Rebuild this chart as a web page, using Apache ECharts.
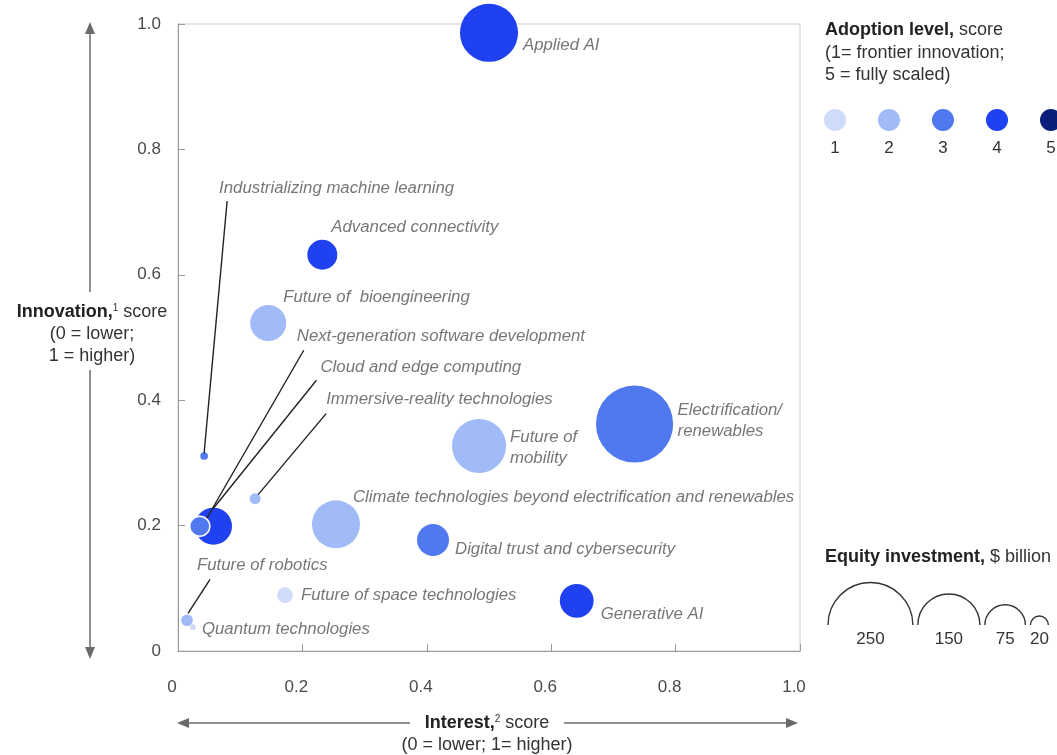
<!DOCTYPE html>
<html>
<head>
<meta charset="utf-8">
<script src="https://cdn.jsdelivr.net/npm/echarts@6/dist/echarts.min.js"></script>
<style>
  html, body { margin: 0; padding: 0; background: #fff; }
  #chart { width: 1057px; height: 755px; }
</style>
</head>
<body>
<div id="chart"></div>
<script>
// Technology trends: interest vs innovation, bubble size = equity investment
const categories = [
  'Applied AI', 'Advanced connectivity', 'Future of  bioengineering',
  'Industrializing machine learning', 'Cloud and edge computing',
  'Next-generation software development', 'Immersive-reality technologies',
  'Future of\nmobility', 'Electrification/\nrenewables',
  'Climate technologies beyond electrification and renewables',
  'Digital trust and cybersecurity', 'Future of robotics',
  'Future of space technologies', 'Quantum technologies', 'Generative AI'
];
const interestScores   = [0.500, 0.232, 0.145, 0.042, 0.057, 0.035, 0.124, 0.484, 0.734, 0.254, 0.410, 0.0145, 0.172, 0.024, 0.641];
const innovationScores = [0.986, 0.632, 0.523, 0.311, 0.199, 0.199, 0.243, 0.327, 0.362, 0.202, 0.177, 0.049, 0.089, 0.038, 0.080];
const adoptionLevels   = [4, 4, 2, 3, 4, 3, 2, 2, 3, 2, 3, 2, 1, 1, 4];
const equityInvestment = [135, 46, 62, 5, 65, 24, 9, 120, 214, 99, 51, 10, 16, 3, 56];

const axisTicks = [0, 0.2, 0.4, 0.6, 0.8, 1.0];
const adoptionScale = [1, 2, 3, 4, 5];
const adoptionPalette = ['#cfdbfb', '#a0bbf7', '#5079ef', '#2041ef', '#0b1f7a'];
const equityLegendValues = [250, 150, 75, 20];

// Label placement relative to each bubble centre (px): [dx, dy]
const labelOffsets = {
  'Applied AI': [34, 13],
  'Advanced connectivity': [9, -27],
  'Future of  bioengineering': [15, -26],
  'Industrializing machine learning': [15, -268],
  'Cloud and edge computing': [107, -159],
  'Next-generation software development': [97, -190],
  'Immersive-reality technologies': [71, -99],
  'Future of\nmobility': [31, 2],
  'Electrification/\nrenewables': [43, -3],
  'Climate technologies beyond electrification and renewables': [17, -27],
  'Digital trust and cybersecurity': [22, 9],
  'Future of robotics': [10, -55],
  'Future of space technologies': [16, 0],
  'Quantum technologies': [9, 2],
  'Generative AI': [24, 13]
};
// Leader lines relative to bubble centre: [near bubble, near label]
const leaderLines = {
  'Industrializing machine learning': [[0, -3], [23, -255]],
  'Next-generation software development': [[7, -8], [104, -176]],
  'Cloud and edge computing': [[0, -18], [103, -146]],
  'Immersive-reality technologies': [[3, -4], [71, -85]],
  'Future of robotics': [[1, -7], [23, -41]]
};

// Bubble radius from equity investment ($ billion)
function bubbleRadius(v) { return 1.43 * Math.pow(v, 0.614); }

const points = categories.map((name, i) => ({
  name: name,
  value: [interestScores[i], innovationScores[i], equityInvestment[i], adoptionLevels[i]],
  itemStyle: {
    color: adoptionPalette[adoptionLevels[i] - 1],
    opacity: 1,
    borderColor: name === 'Next-generation software development' ? '#ffffff' : 'transparent',
    borderWidth: name === 'Next-generation software development' ? 1.5 : 0
  }
}));

const FONT = '"Liberation Sans", Arial, Helvetica, sans-serif';

const chart = echarts.init(document.getElementById('chart'), null, { renderer: 'canvas' });

const axisCommon = {
  type: 'value', min: 0, max: 1, interval: 0.2,
  axisLine: { show: true, lineStyle: { color: '#9a9a9a', width: 1 } },
  axisTick: { show: true, inside: true, length: 7, lineStyle: { color: '#9a9a9a' } },
  splitLine: { show: false },
  axisLabel: {
    color: '#4a4a4a', fontSize: 17, fontFamily: FONT,
    formatter: v => {
      const t = axisTicks.find(a => Math.abs(a - v) < 1e-9);
      return t === 0 ? '0' : t.toFixed(1);
    }
  }
};

const option = {
  animation: false,
  backgroundColor: '#ffffff',
  grid: { left: 178, right: 257, top: 24, bottom: 104, show: true, borderColor: '#cccccc', borderWidth: 1, backgroundColor: 'transparent' },
  xAxis: Object.assign({}, axisCommon, {
    axisLabel: Object.assign({}, axisCommon.axisLabel, { margin: 28, padding: [0, 12, 0, 0] })
  }),
  yAxis: Object.assign({}, axisCommon, {
    axisLabel: Object.assign({}, axisCommon.axisLabel, { margin: 17 })
  }),
  series: [{
    type: 'scatter',
    data: points,
    symbolSize: val => 2 * bubbleRadius(val[2]),
    label: {
      show: true,
      formatter: p => p.name,
      color: '#777777',
      fontStyle: 'italic',
      fontSize: 16.8,
      lineHeight: 21,
      fontFamily: FONT
    },
    labelLayout: params => {
      const name = categories[params.dataIndex];
      const off = labelOffsets[name];
      const cx = params.rect.x + params.rect.width / 2;
      const cy = params.rect.y + params.rect.height / 2;
      return { x: cx + off[0], y: cy + off[1], align: 'left', verticalAlign: 'middle', hideOverlap: false };
    },
    emphasis: { disabled: true }
  }]
};

chart.setOption(option);

// Decorations: leader lines, axis titles with arrows, legends
const graphics = [];

Object.keys(leaderLines).forEach(name => {
  const i = categories.indexOf(name);
  const c = chart.convertToPixel({ gridIndex: 0 }, [interestScores[i], innovationScores[i]]);
  const seg = leaderLines[name];
  graphics.push({
    type: 'line', z: 10,
    shape: { x1: c[0] + seg[0][0], y1: c[1] + seg[0][1], x2: c[0] + seg[1][0], y2: c[1] + seg[1][1] },
    style: { stroke: '#222222', lineWidth: 1.4 }
  });
});

const ARROW = '#6a6a6a';
// vertical arrow (innovation)
graphics.push(
  { type: 'line', shape: { x1: 90, y1: 30, x2: 90, y2: 292 }, style: { stroke: ARROW, lineWidth: 1.5 } },
  { type: 'line', shape: { x1: 90, y1: 370, x2: 90, y2: 650 }, style: { stroke: ARROW, lineWidth: 1.5 } },
  { type: 'polygon', shape: { points: [[90, 22], [85, 34], [95, 34]] }, style: { fill: ARROW } },
  { type: 'polygon', shape: { points: [[90, 659], [85, 647], [95, 647]] }, style: { fill: ARROW } },
  // horizontal arrow (interest)
  { type: 'line', shape: { x1: 185, y1: 723, x2: 410, y2: 723 }, style: { stroke: ARROW, lineWidth: 1.5 } },
  { type: 'line', shape: { x1: 564, y1: 723, x2: 790, y2: 723 }, style: { stroke: ARROW, lineWidth: 1.5 } },
  { type: 'polygon', shape: { points: [[177, 723], [189, 718], [189, 728]] }, style: { fill: ARROW } },
  { type: 'polygon', shape: { points: [[798, 723], [786, 718], [786, 728]] }, style: { fill: ARROW } }
);

const titleRich = {
  b: { fontWeight: 'bold', fontSize: 18, fontFamily: FONT, fill: '#222222' },
  n: { fontSize: 18, fontFamily: FONT, fill: '#333333' },
  sup: { fontSize: 10, fontFamily: FONT, fill: '#333333', padding: [0, 0, 8, 0] }
};

graphics.push({
  type: 'text', x: 92, y: 334,
  style: {
    text: '{b|Innovation,}{sup|1}{n| score}\n{n|(0 = lower;}\n{n|1 = higher)}',
    rich: titleRich, align: 'center', verticalAlign: 'middle', lineHeight: 22
  }
});
graphics.push({
  type: 'text', x: 487, y: 734,
  style: {
    text: '{b|Interest,}{sup|2}{n| score}\n{n|(0 = lower; 1= higher)}',
    rich: titleRich, align: 'center', verticalAlign: 'middle', lineHeight: 22
  }
});

// adoption level legend
graphics.push({
  type: 'text', x: 825, y: 53,
  style: {
    text: '{b|Adoption level,}{n| score}\n{n|(1= frontier innovation;}\n{n|5 = fully scaled)}',
    rich: titleRich, align: 'left', verticalAlign: 'middle', lineHeight: 22.5
  }
});
adoptionScale.forEach((lvl, k) => {
  const cx = 835 + k * 54;
  graphics.push({ type: 'circle', shape: { cx: cx, cy: 120, r: 11 }, style: { fill: adoptionPalette[lvl - 1] } });
  graphics.push({
    type: 'text', x: cx, y: 148,
    style: { text: String(lvl), font: '17px ' + FONT, fill: '#333333', align: 'center', verticalAlign: 'middle' }
  });
});

// equity investment legend
graphics.push({
  type: 'text', x: 825, y: 557,
  style: { text: '{b|Equity investment,}{n| $ billion}', rich: titleRich, align: 'left', verticalAlign: 'middle' }
});
let edge = 828;
equityLegendValues.forEach(v => {
  const r = bubbleRadius(v);
  const cx = edge + r;
  graphics.push({
    type: 'arc', shape: { cx: cx, cy: 625, r: r, startAngle: Math.PI, endAngle: 2 * Math.PI, clockwise: true },
    style: { stroke: '#333333', lineWidth: 1.4, fill: null }
  });
  graphics.push({
    type: 'text', x: cx, y: 639,
    style: { text: String(v), font: '17px ' + FONT, fill: '#333333', align: 'center', verticalAlign: 'middle' }
  });
  edge = cx + r + 5;
});

chart.setOption({ graphic: graphics });
</script>
</body>
</html>
